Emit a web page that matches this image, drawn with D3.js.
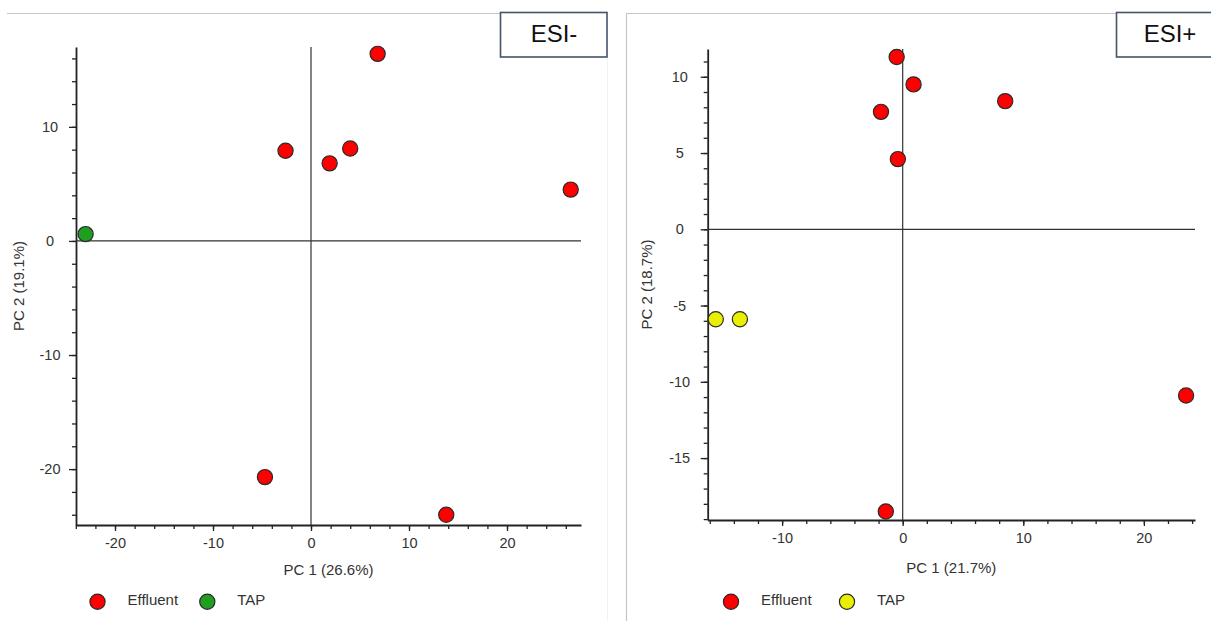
<!DOCTYPE html>
<html>
<head>
<meta charset="utf-8">
<script src="https://cdn.jsdelivr.net/npm/d3@7"></script>
<style>
  html, body { margin: 0; padding: 0; background: #fff; }
  svg { display: block; }
  text { font-family: "Liberation Sans", Arial, sans-serif; }
</style>
</head>
<body>
<svg id="chart" width="1211" height="621"></svg>
<script>
// PCA scores, ESI- mode
const esiNegEffluentPC1 = [-2.6, 6.8, 4.0, 1.9, 26.5, -4.7, 13.8];
const esiNegEffluentPC2 = [7.9, 16.4, 8.1, 6.8, 4.5, -20.7, -24.0];
const esiNegTapPC1 = [-23.0];
const esiNegTapPC2 = [0.6];

// PCA scores, ESI+ mode
const esiPosEffluentPC1 = [-0.5, 0.9, -1.8, -0.4, 8.5, -1.4, 23.5];
const esiPosEffluentPC2 = [11.3, 9.5, 7.7, 4.6, 8.4, -18.5, -10.9];
const esiPosTapPC1 = [-15.5, -13.5];
const esiPosTapPC2 = [-5.9, -5.9];

// Axis ticks
const esiNegXTicks = [-20, -10, 0, 10, 20];
const esiNegYTicks = [-20, -10, 0, 10];
const esiPosXTicks = [-10, 0, 10, 20];
const esiPosYTicks = [-15, -10, -5, 0, 5, 10];

const seriesNames = ["Effluent", "TAP"];

// plain hyphen for negative tick labels
const fmt = v => String(v);

const svg = d3.select("#chart");

// frame lines around the two panels
const frame = svg.append("g");
frame.append("line").attr("x1", 7).attr("x2", 500).attr("y1", 13.5).attr("y2", 13.5)
  .attr("stroke", "#c6c6c6").attr("stroke-width", 1.2);
frame.append("line").attr("x1", 607.5).attr("x2", 607.5).attr("y1", 57).attr("y2", 621)
  .attr("stroke", "#f1f1f1").attr("stroke-width", 1);
frame.append("line").attr("x1", 626).attr("x2", 1116).attr("y1", 13.5).attr("y2", 13.5)
  .attr("stroke", "#c6c6c6").attr("stroke-width", 1.2);
frame.append("line").attr("x1", 626.5).attr("x2", 626.5).attr("y1", 13).attr("y2", 621)
  .attr("stroke", "#c6c6c6").attr("stroke-width", 1.2);

function panel(cfg) {
  const g = svg.append("g");
  const x = d3.scaleLinear().domain(cfg.xDomain).range(cfg.xRange);
  const y = d3.scaleLinear().domain(cfg.yDomain).range(cfg.yRange);
  const x0 = cfg.xRange[0], y0 = cfg.yRange[0];

  // minor ticks
  g.append("g").attr("transform", `translate(0,${y0})`)
    .call(d3.axisBottom(x).tickValues(cfg.xMinor).tickSize(4).tickSizeOuter(0).tickFormat(""))
    .call(a => a.select(".domain").remove())
    .selectAll("line").attr("stroke", "#222").attr("stroke-width", 1.3);
  g.append("g").attr("transform", `translate(${x0},0)`)
    .call(d3.axisLeft(y).tickValues(cfg.yMinor).tickSize(4).tickSizeOuter(0).tickFormat(""))
    .call(a => a.select(".domain").remove())
    .selectAll("line").attr("stroke", "#222").attr("stroke-width", 1.3);

  // major ticks + labels
  const ax = g.append("g").attr("transform", `translate(0,${y0})`)
    .call(d3.axisBottom(x).tickValues(cfg.xTicks).tickFormat(fmt)
      .tickSize(6).tickSizeOuter(0).tickPadding(7));
  ax.select(".domain").attr("stroke", "#222").attr("stroke-width", 1.8);
  ax.selectAll("line").attr("stroke", "#222").attr("stroke-width", 1.3);
  ax.selectAll("text").attr("font-size", 14.5).attr("fill", "#333")
    .attr("font-family", "Liberation Sans, Arial, sans-serif");

  const ay = g.append("g").attr("transform", `translate(${x0},0)`)
    .call(d3.axisLeft(y).tickValues(cfg.yTicks).tickFormat(fmt)
      .tickSize(7).tickSizeOuter(0));
  ay.select(".domain").attr("stroke", "#222").attr("stroke-width", 1.8);
  ay.selectAll("line").attr("stroke", "#222").attr("stroke-width", 1.3);
  ay.selectAll("text").attr("font-size", 14.5).attr("fill", "#333")
    .attr("font-family", "Liberation Sans, Arial, sans-serif")
    .attr("text-anchor", "middle").attr("x", -cfg.yLabelOffset);

  // zero cross lines
  g.append("line").attr("x1", x0).attr("x2", cfg.xRange[1])
    .attr("y1", y(0)).attr("y2", y(0)).attr("stroke", "#333").attr("stroke-width", 1.2);
  g.append("line").attr("x1", x(0)).attr("x2", x(0))
    .attr("y1", cfg.yRange[0]).attr("y2", cfg.yRange[1]).attr("stroke", "#333").attr("stroke-width", 1.2);

  // axis titles
  g.append("text").attr("x", (cfg.xRange[0] + cfg.xRange[1]) / 2).attr("y", cfg.xTitleY)
    .attr("text-anchor", "middle").attr("dominant-baseline", "middle")
    .attr("font-size", 15).attr("fill", "#333").text(cfg.xTitle);
  const ym = (cfg.yRange[0] + cfg.yRange[1]) / 2;
  g.append("text").attr("transform", `translate(${cfg.yTitleX},${ym}) rotate(-90)`)
    .attr("text-anchor", "middle").attr("dominant-baseline", "middle")
    .attr("font-size", 15).attr("fill", "#333").text(cfg.yTitle);

  // points
  cfg.series.forEach(s => {
    g.append("g").selectAll("circle")
      .data(d3.range(s.pc1.length))
      .join("circle")
      .attr("cx", i => x(s.pc1[i]))
      .attr("cy", i => y(s.pc2[i]))
      .attr("r", 7.6)
      .attr("fill", s.color)
      .attr("stroke", "#2a2a2a").attr("stroke-width", 1.2);
  });

  // legend
  const lg = g.append("g");
  cfg.series.forEach((s, i) => {
    const lx = cfg.legend[i];
    lg.append("circle").attr("cx", lx).attr("cy", 601.7).attr("r", 7.6)
      .attr("fill", s.color).attr("stroke", "#2a2a2a").attr("stroke-width", 1.2);
    lg.append("text").attr("x", lx + 30).attr("y", 601.5)
      .attr("dominant-baseline", "middle").attr("font-size", 15).attr("fill", "#333")
      .text(s.name);
  });

  // mode label box
  const b = cfg.box;
  g.append("rect").attr("x", b.x).attr("y", b.y).attr("width", b.w).attr("height", b.h)
    .attr("fill", "#fff").attr("stroke", "#44546a").attr("stroke-width", 1.6);
  g.append("text").attr("x", b.tx).attr("y", b.y + b.h / 2 + 1)
    .attr("text-anchor", "middle").attr("dominant-baseline", "middle")
    .attr("font-family", "Lato, 'Open Sans', sans-serif").attr("font-size", 24)
    .attr("fill", "#111").text(b.label);
}

panel({
  xDomain: [-23.98, 27.55], xRange: [76, 581],
  yDomain: [-24.9, 17.0], yRange: [525, 47],
  xTicks: esiNegXTicks, yTicks: esiNegYTicks,
  xMinor: d3.range(-24, 27, 2), yMinor: d3.range(-24, 17, 2),
  yLabelOffset: 26,
  xTitle: "PC 1 (26.6%)", yTitle: "PC 2 (19.1%)",
  xTitleY: 571, yTitleX: 20,
  series: [
    { name: seriesNames[0], pc1: esiNegEffluentPC1, pc2: esiNegEffluentPC2, color: "#ff0000" },
    { name: seriesNames[1], pc1: esiNegTapPC1, pc2: esiNegTapPC2, color: "#1f9e1f" }
  ],
  legend: [97.5, 207.3],
  box: { x: 500.5, y: 12.5, w: 106.5, h: 44.5, tx: 554, label: "ESI-" }
});

panel({
  xDomain: [-16.17, 24.24], xRange: [707.7, 1195],
  yDomain: [-19.06, 11.82], yRange: [520, 49],
  xTicks: esiPosXTicks, yTicks: esiPosYTicks,
  xMinor: d3.range(-16, 25, 2), yMinor: d3.range(-19, 12, 1),
  yLabelOffset: 28,
  xTitle: "PC 1 (21.7%)", yTitle: "PC 2 (18.7%)",
  xTitleY: 569, yTitleX: 648,
  series: [
    { name: seriesNames[0], pc1: esiPosEffluentPC1, pc2: esiPosEffluentPC2, color: "#ff0000" },
    { name: seriesNames[1], pc1: esiPosTapPC1, pc2: esiPosTapPC2, color: "#e8ef00" }
  ],
  legend: [731, 847],
  box: { x: 1116.5, y: 12.5, w: 100, h: 44.5, tx: 1170, label: "ESI+" }
});
</script>
</body>
</html>
